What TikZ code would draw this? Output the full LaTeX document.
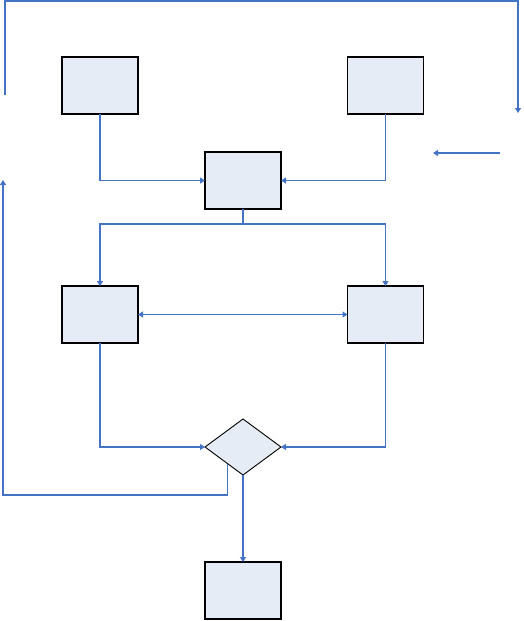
\documentclass[tikz,border=0pt]{standalone}
\usetikzlibrary{arrows.meta, positioning, calc, shapes.geometric}
\definecolor{boxfill}{HTML}{E6ECF5}
\definecolor{flowblue}{HTML}{4472C4}

\begin{document}
\begin{tikzpicture}[
		x=1pt, y=-1pt,
		% Box styles
		stepbox/.style={draw=black, line width=1.5pt, fill=boxfill, minimum width=76pt, minimum height=57pt, inner sep=0pt, outer sep=0pt},
		decision/.style={diamond, draw=black, line width=0.9pt, fill=boxfill, minimum width=76pt, minimum height=56pt, inner sep=0pt, outer sep=0pt},
		% Connector styles
		flow/.style={draw=flowblue, line width=1.3pt, -{Triangle[width=6pt, length=5pt]}},
		bothflow/.style={flow, {Triangle[width=6pt, length=5pt]}-{Triangle[width=6pt, length=5pt]}}
		]
		\useasboundingbox (0,0) rectangle (523,621);
		
		% --- BOXES ---
		\node[stepbox] (A) at (100,85.5) {};
		\node[stepbox] (B) at (385.5,85.5) {};
		\node[stepbox] (C) at (243,180.5) {};
		\node[stepbox] (D) at (100,314.5) {};
		\node[stepbox] (E) at (385.5,314.5) {};
		\node[decision] (dec) at (243,447) {};
		\node[stepbox, below=87pt of dec] (F) {};
		
		% --- CONNECTORS ---
		\draw[flow] (A.south) |- (C.west);
		\draw[flow] (B.south) |- (C.east);
		
		\coordinate (split) at (243,224);
		\draw[flow] (C.south) -- (split) -| (D.north);
		\draw[flow] (split) -| (E.north);
		
		\draw[bothflow] (D.east) -- (E.west);
		
		\draw[flow] (D.south) |- (dec.west);
		\draw[flow] (E.south) |- (dec.east);
		\draw[flow] (dec.south) -- (F.north);
		
		% Loop back on the left
		\coordinate (loopL) at ($(dec.west)!0.6!(dec.south)$);
		\coordinate (loopY) at (0,495);
		\coordinate (backIn) at (3,180);
		\draw[flow] (loopL) -- (loopL |- loopY) -| (backIn);
		
		% Loop over the top
		\coordinate (topIn) at (5,95);
		\coordinate (topY) at (0,1);
		\coordinate (topOut) at (518,113);
		\draw[flow] (topIn) -- (topIn |- topY) -| (topOut);
		
		% Short arrow on the right
		\coordinate (stubS) at (500,153);
		\coordinate (stubE) at (433,153);
		\draw[flow] (stubS) -- (stubE);
		
	\end{tikzpicture}
\end{document}
